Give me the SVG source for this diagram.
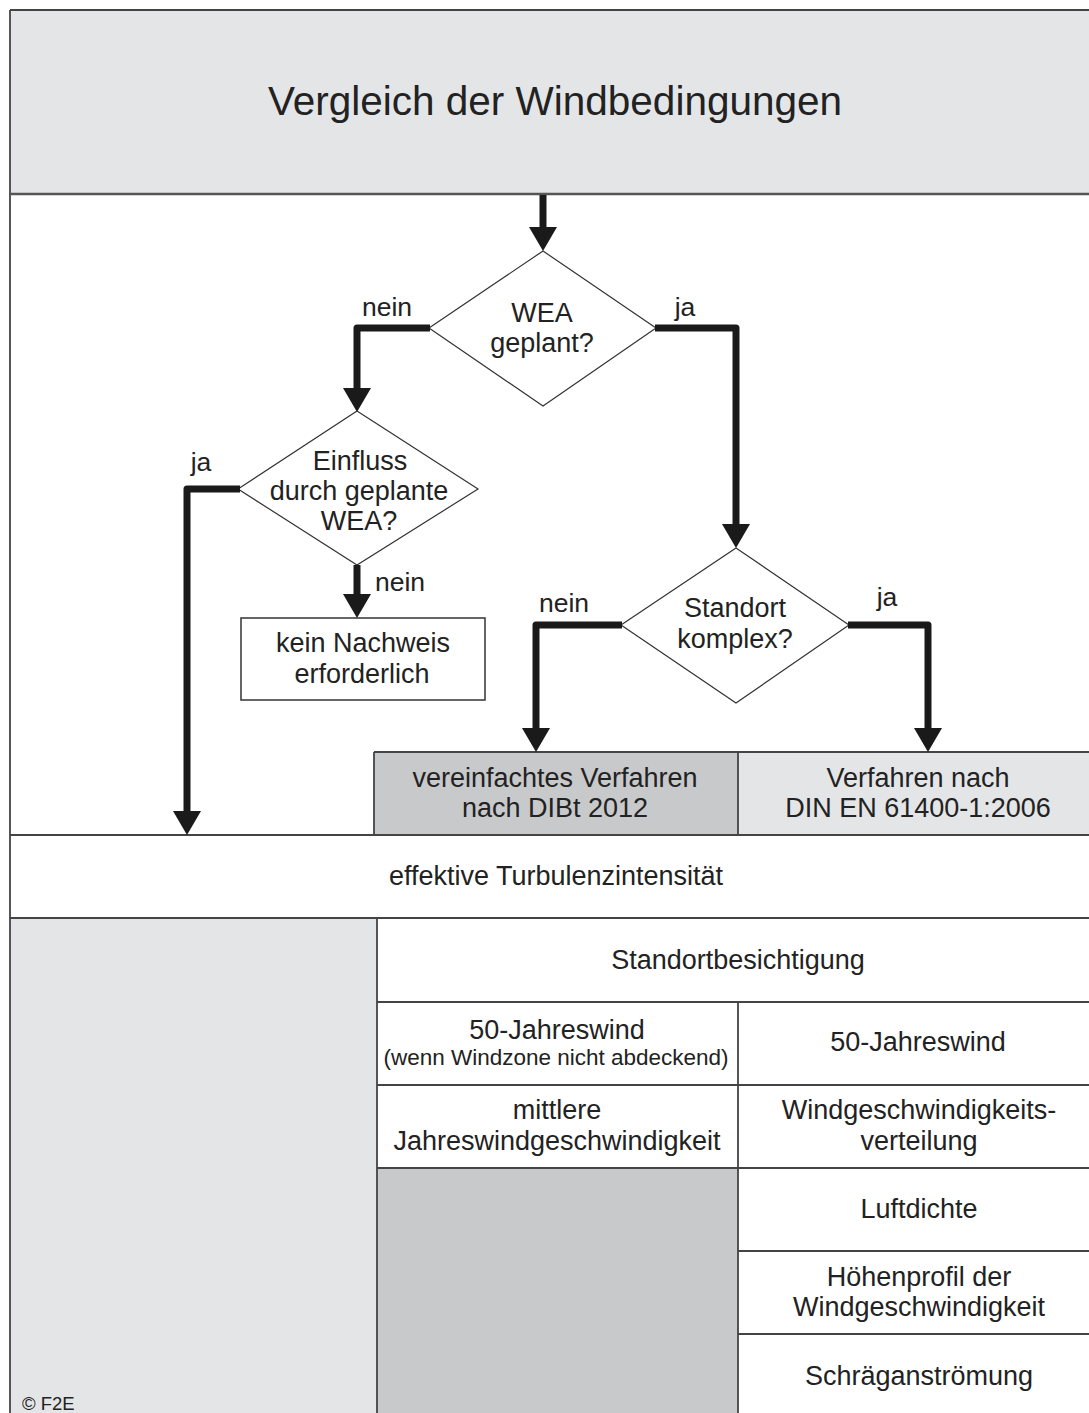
<svg xmlns="http://www.w3.org/2000/svg" width="1089" height="1413" viewBox="0 0 1089 1413">
<style>
text{font-family:"Liberation Sans",Arial,sans-serif;fill:#222;text-anchor:middle}
.t{font-size:27px}
.s{font-size:22.5px}
.lbl{font-size:26.5px}
.grid{stroke:#444;stroke-width:1.8;fill:none}
.dia{fill:#fff;stroke:#333;stroke-width:1.2}
.box{fill:#fff;stroke:#333;stroke-width:1.5}
.con{fill:none;stroke:#1a1a1a;stroke-width:7;stroke-linejoin:round}
</style>
<defs>
<marker id="ah" markerUnits="userSpaceOnUse" viewBox="0 0 24 28" markerWidth="24" markerHeight="28" refX="0" refY="14" orient="auto">
<path d="M0,0 L24,14 L0,28 z" fill="#1a1a1a"/>
</marker>
</defs>
<rect x="0" y="0" width="1089" height="1413" fill="#fff"/>
<g id="header">
<rect x="10" y="10" width="1089" height="184" fill="#e4e5e7"/>
<text x="555" y="115" style="font-size:40.5px">Vergleich der Windbedingungen</text>
</g>
<g id="bands">
<rect x="374" y="752" width="364" height="83" fill="#c8c9cb"/>
<rect x="738" y="752" width="351" height="83" fill="#e4e5e7"/>
<rect x="10" y="918" width="367" height="495" fill="#e4e5e7"/>
<rect x="377" y="1168" width="361" height="245" fill="#c8c9cb"/>
</g>
<g id="gridlines">
<path class="grid" d="M10,10 H1089 M10,10 V1413" stroke-width="2.5"/>
<path d="M10,194 H1089" stroke="#555" stroke-width="2.5"/>
<path class="grid" d="M374,752 H1089 M374,752 V835 M738,752 V835 M10,835 H1089 M10,918 H1089 M377,918 V1413 M377,1002 H1089 M738,1002 V1413 M377,1085 H1089 M377,1168 H1089 M738,1251 H1089 M738,1334 H1089"/>
</g>
<g id="d1">
<polygon class="dia" points="543,251 656,328 543,406 429,328"/>
<text class="t" x="542" y="322">WEA</text>
<text class="t" x="542" y="352">geplant?</text>
</g>
<g id="d2">
<polygon class="dia" points="357,411 478,489 357,565 238,489"/>
<text class="t" x="360" y="470">Einfluss</text>
<text class="t" x="359" y="500">durch geplante</text>
<text class="t" x="359" y="530">WEA?</text>
</g>
<g id="kein">
<rect class="box" x="241" y="618" width="244" height="82"/>
<text class="t" x="363" y="652">kein Nachweis</text>
<text class="t" x="362" y="683">erforderlich</text>
</g>
<g id="d3">
<polygon class="dia" points="736,548 849,625 736,703 621,625"/>
<text class="t" x="735" y="617">Standort</text>
<text class="t" x="735" y="648">komplex?</text>
</g>
<g id="vereinfacht">
<text class="t" x="555" y="787">vereinfachtes Verfahren</text>
<text class="t" x="555" y="817">nach DIBt 2012</text>
</g>
<g id="din">
<text class="t" x="918" y="787">Verfahren nach</text>
<text class="t" x="918" y="817">DIN EN 61400-1:2006</text>
</g>
<g id="turb"><text class="t" x="556" y="885">effektive Turbulenzintensität</text></g>
<g id="standort"><text class="t" x="738" y="969">Standortbesichtigung</text></g>
<g id="j50a">
<text class="t" x="557" y="1039">50-Jahreswind</text>
<text class="s" x="556" y="1065">(wenn Windzone nicht abdeckend)</text>
</g>
<g id="j50b"><text class="t" x="918" y="1051">50-Jahreswind</text></g>
<g id="mittlere">
<text class="t" x="557" y="1119">mittlere</text>
<text class="t" x="557" y="1150">Jahreswindgeschwindigkeit</text>
</g>
<g id="verteilung">
<text class="t" x="919" y="1119">Windgeschwindigkeits-</text>
<text class="t" x="919" y="1150">verteilung</text>
</g>
<g id="luft"><text class="t" x="919" y="1218">Luftdichte</text></g>
<g id="hoehe">
<text class="t" x="919" y="1286">Höhenprofil der</text>
<text class="t" x="919" y="1316">Windgeschwindigkeit</text>
</g>
<g id="schraeg"><text class="t" x="919" y="1385">Schräganströmung</text></g>
<g id="connectors">
<path class="con" d="M543,195 V227" marker-end="url(#ah)"/>
<path class="con" d="M430,328 H357 V388" marker-end="url(#ah)"/>
<path class="con" d="M655,328 H736 V524" marker-end="url(#ah)"/>
<path class="con" d="M240,489 H187 V811" marker-end="url(#ah)"/>
<path class="con" d="M357,565 V594" marker-end="url(#ah)"/>
<path class="con" d="M622,625 H536 V728" marker-end="url(#ah)"/>
<path class="con" d="M848,625 H928 V728" marker-end="url(#ah)"/>
<text class="lbl" x="387" y="316">nein</text>
<text class="lbl" x="685" y="316">ja</text>
<text class="lbl" x="201" y="471">ja</text>
<text class="lbl" x="400" y="591">nein</text>
<text class="lbl" x="564" y="612">nein</text>
<text class="lbl" x="887" y="606">ja</text>
</g>
<text x="22" y="1410" style="font-size:18.5px;text-anchor:start">© F2E</text>
</svg>
